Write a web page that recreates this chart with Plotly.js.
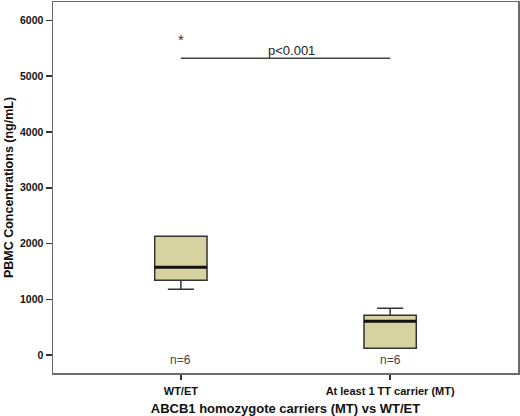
<!DOCTYPE html>
<html><head><meta charset="utf-8">
<script src="https://cdn.plot.ly/plotly-3.0.1.min.js"></script>
<style>html,body{margin:0;padding:0;background:#fff}</style>
</head><body><div id="chart" style="width:520px;height:416px"></div>
<script>
const categories = ["WT/ET", "At least 1 TT carrier (MT)"];
const lowerFence = [1183, 125];
const q1 = [1344, 125];
const median = [1577, 609];
const q3 = [2133, 717];
const upperFence = [2133, 842];
const nLabels = ["n=6", "n=6"];
const yTickVals = [0, 1000, 2000, 3000, 4000, 5000, 6000];
const sigLineY = 5323;
const starY = 5663;
const nLabelY = -90;
const pText = "p<0.001";

const boxWidth = 0.25;
const boxColor = "#d7d3a1";
const lineColor = "#333333";

const trace = {
  type: "box",
  x: categories,
  q1: q1, median: median, q3: q3,
  lowerfence: lowerFence, upperfence: upperFence,
  boxpoints: false,
  width: boxWidth,
  whiskerwidth: 0.5,
  fillcolor: boxColor,
  line: {color: lineColor, width: 1.5},
  hoverinfo: "none",
  showlegend: false
};

const shapes = median.map((m, i) => ({
  type: "line", xref: "x", yref: "y",
  x0: i - boxWidth / 2, x1: i + boxWidth / 2, y0: m, y1: m,
  line: {color: "#111", width: 3}
}));
shapes.push({
  type: "line", xref: "x", yref: "y",
  x0: 0, x1: 1, y0: sigLineY, y1: sigLineY,
  line: {color: "#444", width: 1.5}
});

const annotations = nLabels.map((t, i) => ({
  x: i, y: nLabelY, xref: "x", yref: "y", text: t, showarrow: false,
  font: {family: "Liberation Sans, Arial", size: 12, color: "#444"}
}));
annotations.push({
  x: 0, y: starY, xref: "x", yref: "y", text: "*", showarrow: false,
  font: {family: "Liberation Sans, Arial", size: 15, color: "#333"}
});
annotations.push({
  x: 0.53, y: sigLineY, xref: "x", yref: "y", text: pText, showarrow: false,
  yanchor: "bottom", yshift: -2,
  font: {family: "Liberation Sans, Arial", size: 13, color: "#222"}
});

const layout = {
  width: 520, height: 416,
  margin: {l: 53, r: 2, t: 2, b: 43},
  paper_bgcolor: "#fff", plot_bgcolor: "#fff",
  font: {family: "Liberation Sans, Arial", color: "#111"},
  xaxis: {
    type: "category",
    range: [-0.611, 1.611],
    showline: true, mirror: true, linecolor: "#6b6b6b", linewidth: 1.5,
    ticks: "outside", ticklen: 5, tickcolor: "#333", tickwidth: 1.5,
    ticklabelstandoff: 2,
    tickfont: {size: 11, weight: "bold", color: "#111"},
    showgrid: false, zeroline: false,
    title: {text: "ABCB1 homozygote carriers (MT) vs WT/ET", standoff: 8,
            font: {size: 13, weight: "bold", color: "#111"}}
  },
  yaxis: {
    range: [-320, 6330],
    tickvals: yTickVals,
    showline: true, mirror: true, linecolor: "#6b6b6b", linewidth: 1.5,
    ticks: "outside", ticklen: 6, tickcolor: "#333", tickwidth: 1.5,
    tickfont: {size: 10.5, weight: "bold", color: "#111"},
    showgrid: false, zeroline: false,
    title: {text: "PBMC Concentrations (ng/mL)", standoff: 3,
            font: {size: 12.5, weight: "bold", color: "#111"}}
  },
  shapes: shapes,
  annotations: annotations
};

Plotly.newPlot("chart", [trace], layout, {displayModeBar: false, staticPlot: true});
</script>
</body></html>
